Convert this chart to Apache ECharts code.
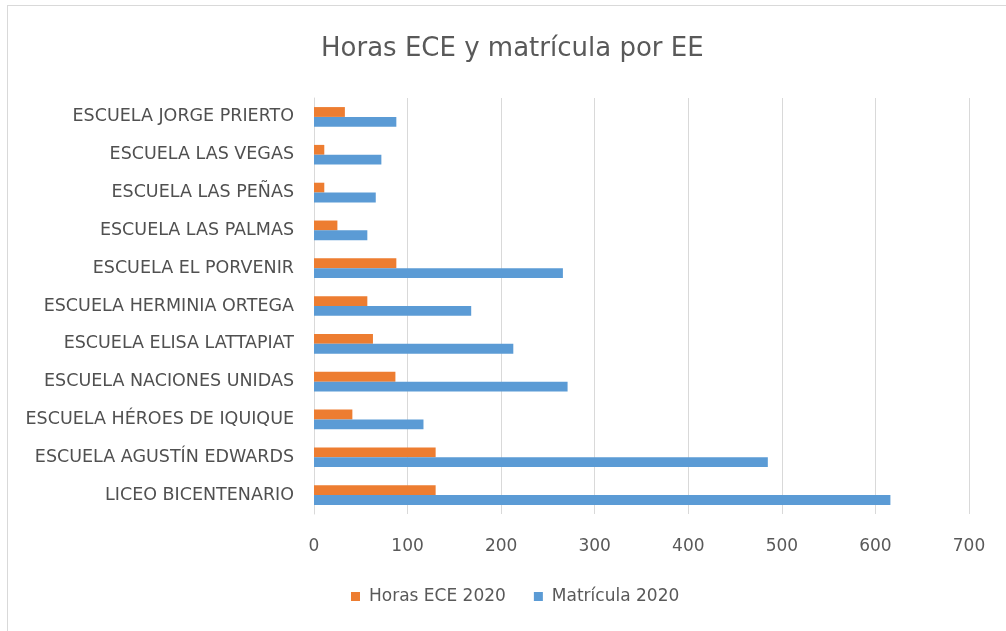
<!DOCTYPE html>
<html><head><meta charset="utf-8">
<script src="https://cdn.jsdelivr.net/npm/echarts@6/dist/echarts.min.js"></script>
<style>
html,body{margin:0;padding:0;background:#fff;}
#frame{position:absolute;left:7px;top:5px;width:1010px;height:640px;border:1px solid #d9d9d9;box-sizing:border-box;}
#c{position:absolute;left:0;top:0;width:1006px;height:631px;}
</style></head>
<body>
<div id="frame"></div>
<div id="c"></div>
<script>
const categories = ["LICEO BICENTENARIO","ESCUELA AGUSTÍN EDWARDS","ESCUELA HÉROES DE IQUIQUE","ESCUELA NACIONES UNIDAS","ESCUELA ELISA LATTAPIAT","ESCUELA HERMINIA ORTEGA","ESCUELA EL PORVENIR","ESCUELA LAS PALMAS","ESCUELA LAS PEÑAS","ESCUELA LAS VEGAS","ESCUELA JORGE PRIERTO"];
const horasECE = [130,130,41,87,63,57,88,25,11,11,33];
const matricula = [616,485,117,271,213,168,266,57,66,72,88];
const seriesNames = ["Horas ECE 2020","Matrícula 2020"];
const xTicks = {min:0,max:700,interval:100};

const chart = echarts.init(document.getElementById('c'),null,{renderer:'canvas'});
const font = '"DejaVu Sans", sans-serif';
chart.setOption({
  animation:false,
  title:{text:'Horas ECE y matrícula por EE',left:316,top:31,
    textStyle:{fontFamily:font,fontSize:26,fontWeight:'normal',color:'#595959'}},
  legend:{bottom:21,left:346,itemWidth:9,itemHeight:9,itemGap:28,icon:'rect',
    textStyle:{fontFamily:font,fontSize:17,color:'#595959',padding:[0,0,0,4]},
    data:seriesNames},
  grid:{left:314,right:37,top:98,bottom:117,containLabel:false},
  xAxis:{type:'value',min:xTicks.min,max:xTicks.max,interval:xTicks.interval,
    axisLine:{show:false},axisTick:{show:false},
    splitLine:{lineStyle:{color:'#d9d9d9',width:1}},
    axisLabel:{fontFamily:font,fontSize:17,color:'#595959',margin:24}},
  yAxis:{type:'category',data:categories,
    axisLine:{show:true,lineStyle:{color:'#d9d9d9'}},axisTick:{show:false},
    axisLabel:{fontFamily:font,fontSize:17.5,color:'#505050',margin:20}},
  series:[
    {name:seriesNames[0],type:'bar',data:horasECE,itemStyle:{color:'#ED7D31'},barGap:'0%',barCategoryGap:'48%'},
    {name:seriesNames[1],type:'bar',data:matricula,itemStyle:{color:'#5B9BD5'},barGap:'0%',barCategoryGap:'48%'}
  ]
});
</script>
</body></html>
